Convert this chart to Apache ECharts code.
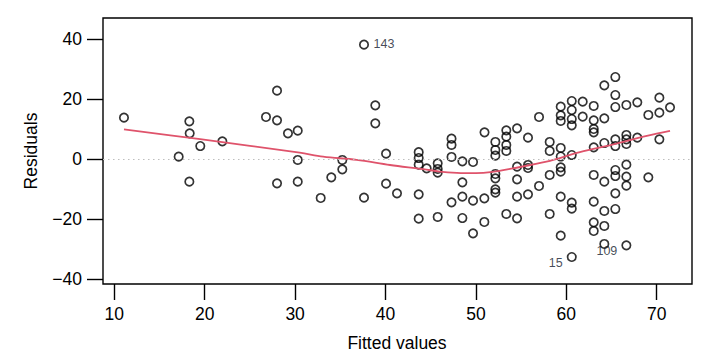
<!DOCTYPE html>
<html>
<head>
<meta charset="utf-8">
<script src="https://cdn.jsdelivr.net/npm/echarts@6/dist/echarts.min.js"></script>
<style>
html,body{margin:0;padding:0;background:#fff;}
#chart{width:728px;height:360px;}
</style>
</head>
<body>
<div id="chart"></div>
<script>
// ---- data ----
const fittedValues = [
  11.07, 18.30, 18.34, 19.51, 17.12, 21.95, 26.78, 28.00, 28.00, 29.21,
  30.29, 30.29, 18.30, 28.00, 30.29, 37.62, 38.87, 38.87, 40.06, 43.67,
  43.67, 43.67, 43.67, 43.67, 47.30, 47.30, 47.30, 47.30, 50.95, 32.83,
  34.00, 35.22, 35.22, 37.62, 40.06, 41.27, 44.55, 45.77, 45.77, 45.77,
  45.77, 48.50, 48.50, 48.50, 48.50, 49.68, 49.68, 49.68, 50.93, 50.93,
  52.15, 52.15, 52.15, 53.36, 53.36, 53.36, 53.36, 54.55, 55.76, 56.98,
  58.16, 58.16, 59.38, 59.38, 59.38, 59.38, 59.38, 60.60, 60.60, 60.60,
  60.60, 60.60, 61.81, 61.81, 63.03, 63.03, 63.03, 63.03, 63.03, 64.20,
  64.20, 64.20, 65.42, 65.42, 65.42, 65.42, 65.42, 66.64, 66.64, 66.64,
  66.64, 67.85, 67.85, 69.07, 70.29, 70.29, 70.29, 71.47, 52.15, 52.15,
  52.15, 52.15, 53.36, 54.55, 54.55, 54.55, 54.55, 55.76, 55.76, 55.76,
  56.98, 58.16, 58.16, 59.38, 59.38, 59.38, 59.38, 60.60, 60.60, 60.60,
  63.03, 63.03, 63.03, 63.03, 64.20, 64.20, 64.20, 64.20, 65.42, 65.42,
  65.42, 65.42, 66.64, 66.64, 66.64, 66.64, 69.07
];
const residualValues = [
  13.87, 12.67, 8.67, 4.43, 0.87, 6.00, 14.10, 22.87, 13.00, 8.67,
  9.53, -0.23, -7.47, -8.00, -7.47, 38.20, 18.00, 12.00, 1.87, 2.37,
  0.43, -1.80, -11.67, -19.80, 6.87, 4.77, 0.77, -14.33, 9.00, -12.90,
  -6.00, -0.23, -3.33, -12.80, -8.13, -11.33, -3.00, -1.33, -3.23, -4.47,
  -19.23, -0.67, -7.67, -12.47, -19.57, -0.90, -13.80, -24.67, -13.00, -20.90,
  5.77, 3.10, 1.20, 9.67, 7.53, 4.77, 2.77, 10.33, 7.20, 14.10,
  5.77, 2.77, 17.53, 14.67, 12.77, 3.77, 0.93, 19.43, 16.43, 13.43,
  11.33, 1.43, 19.20, 14.20, 17.77, 13.00, 10.10, 9.00, 4.00, 24.67,
  13.67, 5.43, 27.43, 21.43, 17.43, 6.67, 4.43, 18.10, 8.10, 6.67,
  5.10, 19.00, 7.20, 14.77, 20.53, 15.53, 6.67, 17.33, -4.90, -6.33,
  -10.00, -11.13, -18.23, -2.47, -6.67, -12.47, -19.67, -1.90, -2.90, -11.67,
  -8.90, -5.23, -18.23, -2.67, -4.13, -12.47, -25.47, -14.47, -16.47, -32.57,
  -5.23, -14.13, -21.00, -23.90, -7.47, -17.23, -22.23, -28.23, -3.57, -5.57,
  -11.33, -16.57, -1.80, -5.80, -8.80, -28.67, -6.00
];
const outlierIds = ['143', '15', '109'];
const outlierIndex = [15, 119, 135];

const smoothX = [11.07, 19.5, 30.5, 33.1, 36.8, 40.5, 44.2, 46.0, 47.9, 50.0, 51.6, 54.1, 57.8, 61.5, 65.2, 68.9, 71.47];
const smoothY = [10.0, 6.7, 2.2, 0.9, -0.2, -1.9, -3.3, -4.1, -4.5, -4.6, -4.3, -3.0, -0.8, 2.4, 5.0, 7.8, 9.5];

const xTicks = [10, 20, 30, 40, 50, 60, 70];
const yTicks = [-40, -20, 0, 20, 40];
const xTitle = 'Fitted values';
const yTitle = 'Residuals';

// ---- build chart ----
const FONT = '"Liberation Sans", Arial, Helvetica, sans-serif';
const fmt = v => (v < 0 ? '\u2212' + Math.abs(v) : String(v));

const pointData = fittedValues.map((x, i) => {
  const item = { value: [x, residualValues[i]] };
  const k = outlierIndex.indexOf(i);
  if (k >= 0) {
    const onRight = x < 45;
    item.label = {
      show: true,
      formatter: outlierIds[k],
      position: onRight ? 'right' : 'left',
      distance: onRight ? 4.5 : 4.0,
      offset: onRight ? [0, -1] : [0, 5.5],
      fontFamily: FONT,
      fontSize: 12.5,
      color: '#141a2e',
      textBorderWidth: 0
    };
  }
  return item;
});

const chart = echarts.init(document.getElementById('chart'), null, { renderer: 'svg' });
chart.setOption({
  animation: false,
  backgroundColor: '#ffffff',
  grid: {
    left: 103, top: 18, width: 589, height: 266,
    show: true, borderColor: '#000', borderWidth: 1.4, backgroundColor: 'transparent'
  },
  xAxis: {
    type: 'value',
    min: 8.75, max: 73.9,
    splitLine: { show: false },
    axisLine: { show: false, onZero: false },
    axisTick: { show: true, length: 16, customValues: xTicks, lineStyle: { color: '#000', width: 1.4 } },
    axisLabel: { show: true, customValues: xTicks, formatter: fmt, margin: 21,
      fontFamily: FONT, fontSize: 17.5, color: '#000' }
  },
  yAxis: {
    type: 'value',
    min: -41.57, max: 47.1,
    splitLine: { show: false },
    axisLine: { show: false, onZero: false },
    axisTick: { show: true, length: 16, customValues: yTicks, lineStyle: { color: '#000', width: 1.4 } },
    axisLabel: { show: true, customValues: yTicks, formatter: fmt, margin: 21,
      fontFamily: FONT, fontSize: 17.5, color: '#000' }
  },
  graphic: [
    { type: 'text', x: 397, y: 343,
      style: { text: xTitle, font: '17.5px ' + FONT, fill: '#000', textAlign: 'center', textVerticalAlign: 'middle' } },
    { type: 'text', x: 31, y: 151, rotation: Math.PI / 2,
      style: { text: yTitle, font: '17.5px ' + FONT, fill: '#000', textAlign: 'center', textVerticalAlign: 'middle' } }
  ],
  series: [
    {
      type: 'scatter',
      data: pointData,
      symbol: 'circle',
      symbolSize: 8.4,
      itemStyle: { color: 'rgba(0,0,0,0)', borderColor: '#000', borderWidth: 1.7 },
      emphasis: { disabled: true },
      silent: true,
      z: 3,
      markLine: {
        silent: true,
        symbol: ['none', 'none'],
        label: { show: false },
        lineStyle: { color: '#BEBEBE', width: 1.2, type: [1.5, 3.5] },
        data: [{ yAxis: 0 }]
      }
    },
    {
      type: 'line',
      data: smoothX.map((x, i) => [x, smoothY[i]]),
      showSymbol: false,
      smooth: 0.35,
      lineStyle: { color: '#DF536B', width: 1.8 },
      silent: true,
      z: 4
    }
  ]
});
</script>
</body>
</html>
